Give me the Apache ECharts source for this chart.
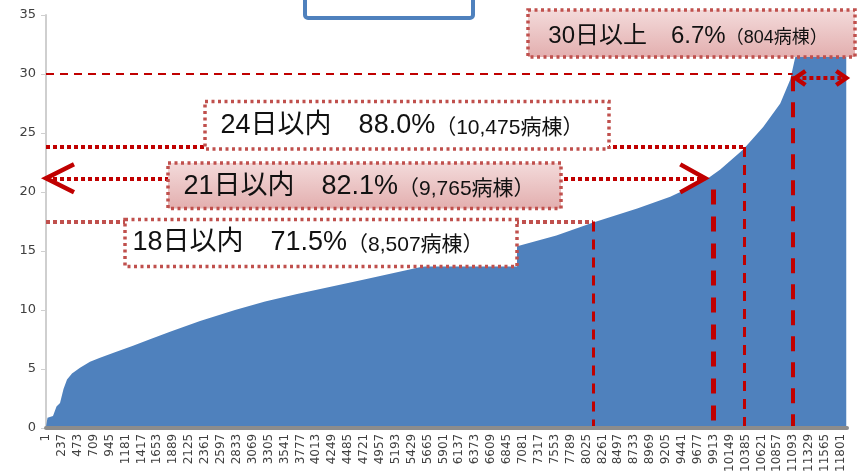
<!DOCTYPE html>
<html>
<head>
<meta charset="utf-8">
<script src="https://cdn.jsdelivr.net/npm/echarts@6/dist/echarts.min.js"></script>
<style>
  html, body { margin: 0; padding: 0; background: #fff; }
  #chart { width: 860px; height: 475px; }
</style>
</head>
<body>
<div id="chart"></div>
<script>
// 病棟の順位（在院日数の短い順）と平均在院日数（図からの読み取り）
const wardRank = [1, 23, 105, 157, 209, 261, 313, 387, 506, 654, 803, 1025, 1293, 1545, 1842, 2288, 2807, 3253,
  3728, 4708, 5599, 6446, 6995, 7577, 8124, 8777, 9267, 9787, 10010, 10350, 10647, 10900, 11048, 11122, 11196, 11270, 11880];
const stayDays = [0.1, 0.85, 1.0, 1.8, 2.1, 3.3, 4.1, 4.6, 5.1, 5.6, 5.95, 6.4, 6.95, 7.5, 8.15, 9.05, 10.0, 10.7,
  11.35, 12.55, 13.67, 14.7, 15.4, 16.3, 17.4, 18.6, 19.6, 21.0, 21.9, 23.6, 25.5, 27.5, 29.5, 31.4, 33.5, 35, 35];
const rankTickStep = 236;   // 1, 237, 473, ...
const rankLast = 11891;
const dayMax = 35;
const dayStep = 5;

// 区切りの注記
const cutNames = ['18日以内', '21日以内', '24日以内', '30日以上'];
const cutShares = ['71.5%', '82.1%', '88.0%', '6.7%'];
const cutWards = ['8,507病棟', '9,765病棟', '10,475病棟', '804病棟'];
// 線の位置（図からの読み取り：順位, 日数）
const cutLineDays = [17.5, 21.15, 23.8, 30];
const cutLineEnd = [8120, 9787, 10366, 11084];
const cutVertRank = [8120, 9904, 10366, 11084];
const cutVertTop = [17.5, 20.2, 23.8, 29.8];
const over30Arrow = [11125, 11880, 29.66];

const red = '#c00000';
const boxRed = '#c0504d';
const font = "'Liberation Sans', 'Noto Sans CJK JP', sans-serif";

const seriesData = wardRank.map((r, i) => [r - 1, stayDays[i]]);
const p = (rank, day) => ({ coord: [rank - 1, day] });
const seg = (a, b, style) => [Object.assign(a, { lineStyle: style }), b];

let myChart = echarts.init(document.getElementById('chart'));
myChart.setOption({
  animation: false,
  grid: { left: 46, right: 13, top: 15, bottom: 47 },
  xAxis: {
    type: 'value',
    min: 0,
    max: rankLast - 1,
    interval: rankTickStep,
    z: 5,
    axisLine: { lineStyle: { color: '#8c8c8c', width: 4 } },
    axisTick: { show: false },
    splitLine: { show: false },
    axisLabel: {
      rotate: 90,
      showMaxLabel: false,
      margin: 6,
      color: '#404040',
      fontSize: 12,
      fontFamily: 'DejaVu Sans',
      formatter: v => String(v + 1)
    }
  },
  yAxis: {
    type: 'value',
    min: 0,
    max: dayMax,
    interval: dayStep,
    axisLine: { show: true, lineStyle: { color: '#cfcfcf', width: 2 } },
    axisTick: { show: true, length: 5, lineStyle: { color: '#cfcfcf' } },
    splitLine: { show: false },
    axisLabel: { color: '#404040', fontSize: 13, fontFamily: 'DejaVu Sans', margin: 10 }
  },
  series: [{
    type: 'line',
    data: seriesData,
    symbol: 'none',
    lineStyle: { width: 0 },
    areaStyle: { color: '#4f81bd', opacity: 1 },
    markLine: {
      silent: true,
      symbol: 'none',
      label: { show: false },
      data: [
        seg(p(1, cutLineDays[3]), p(cutLineEnd[3], cutLineDays[3]), { color: red, width: 2, type: [8, 6] }),
        seg(p(cutVertRank[3], cutVertTop[3]), p(cutVertRank[3], 0), { color: red, width: 4, type: [15, 11] }),
        seg(p(1, cutLineDays[2]), p(cutLineEnd[2], cutLineDays[2]), { color: red, width: 4, type: [4, 3] }),
        seg(p(cutVertRank[2], cutVertTop[2]), p(cutVertRank[2], 0), { color: red, width: 3, type: [10, 8] }),
        seg(p(1, cutLineDays[1]), p(cutLineEnd[1], cutLineDays[1]), { color: red, width: 4, type: [4, 3] }),
        seg(p(cutVertRank[1], cutVertTop[1]), p(cutVertRank[1], 0), { color: red, width: 5, type: [15, 12] }),
        seg(p(1, cutLineDays[0]), p(cutLineEnd[0], cutLineDays[0]), { color: boxRed, width: 4, type: [4, 3] }),
        seg(p(cutVertRank[0], cutVertTop[0]), p(cutVertRank[0], 0), { color: red, width: 3, type: [10, 8] }),
        seg(p(over30Arrow[0], over30Arrow[2]), p(over30Arrow[1], over30Arrow[2]), { color: red, width: 4, type: [4, 3] })
      ]
    }
  }]
});

// 矢印の先端（データ座標から変換）
const px = (rank, day) => myChart.convertToPixel({ xAxisIndex: 0, yAxisIndex: 0 }, [rank - 1, day]);
function chevron(tip, dir, w, h) {
  return {
    type: 'polyline', z: 50,
    shape: { points: [[tip[0] + dir * w, tip[1] - h], tip, [tip[0] + dir * w, tip[1] + h]] },
    style: { stroke: red, lineWidth: 4.5, fill: null, lineJoin: 'miter' }
  };
}
const t21L = px(1, cutLineDays[1]);
const t21R = px(cutLineEnd[1], cutLineDays[1]);
const t30L = px(over30Arrow[0], over30Arrow[2]);
const t30R = px(over30Arrow[1], over30Arrow[2]);

const pink = {
  type: 'linear', x: 0, y: 0, x2: 0, y2: 1,
  colorStops: [{ offset: 0, color: '#f4dcdc' }, { offset: 1, color: '#e2adad' }]
};
function box(x, y, w, h, fill) {
  return {
    type: 'rect', z: 60,
    shape: { x: x, y: y, width: w, height: h },
    style: { fill: fill, stroke: boxRed, lineWidth: 3.5, lineDash: [3, 3.5] }
  };
}
function boxText(cx, cy, i, big, small) {
  return {
    type: 'text', z: 61,
    style: {
      x: cx, y: cy,
      text: '{a|' + cutNames[i] + '　' + cutShares[i] + '}{b|（' + cutWards[i] + '）}',
      align: 'center', verticalAlign: 'middle',
      rich: {
        a: { fontSize: big, fontFamily: font, fill: '#111', lineHeight: 32 },
        b: { fontSize: small, fontFamily: font, fill: '#111', lineHeight: 32, padding: [5, 0, 0, 0] }
      }
    }
  };
}

myChart.setOption({
  graphic: [
    { type: 'rect', z: 60, shape: { x: 305, y: -12, width: 168, height: 30, r: 3 },
      style: { fill: '#fff', stroke: '#4f81bd', lineWidth: 4 } },
    chevron(t21L, 1, 28, 14),
    chevron(t21R, -1, 25, 14),
    chevron(t30L, 1, 10, 7),
    chevron(t30R, -1, 10, 7),
    box(528, 10, 327, 47, pink),
    boxText(688, 36, 3, 24, 18),
    box(205, 101.5, 404, 47.5, '#fff'),
    boxText(402, 126, 2, 27, 21),
    box(168, 163, 393, 45.5, pink),
    boxText(359, 187, 1, 27, 21),
    box(125, 219.5, 392, 47, '#fff'),
    boxText(308, 243, 0, 27, 21)
  ]
});
</script>
</body>
</html>
